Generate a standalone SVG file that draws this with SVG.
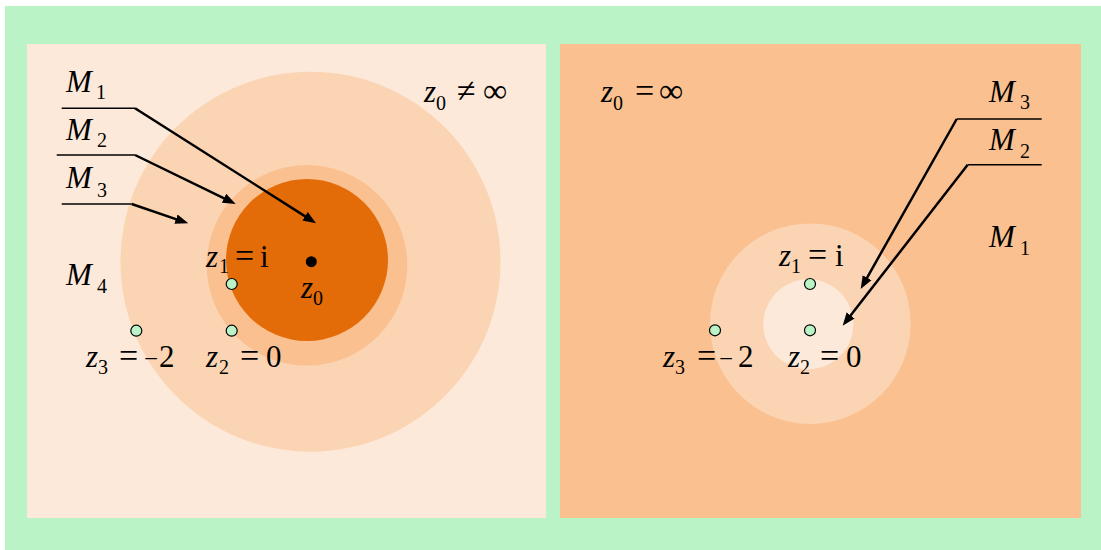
<svg xmlns="http://www.w3.org/2000/svg" width="1101" height="550" viewBox="0 0 1101 550">
<style>
text{font-family:"Liberation Serif","Times New Roman","DejaVu Serif",serif;fill:#000}
.it{font-style:italic;font-size:31px}
.rm{font-size:31px}
.op{font-size:34px}
.mn{font-size:25px}
.sb{font-size:20px}
.pt{fill:#B9F3C6;stroke:#000;stroke-width:1.2}
.hl{stroke:#000;stroke-width:1.5;fill:none}
.ar{stroke:#000;stroke-width:2.5;fill:none;marker-end:url(#ah)}
</style>
<defs>
<marker id="ah" markerUnits="userSpaceOnUse" markerWidth="14" markerHeight="11" refX="3" refY="5" orient="auto" viewBox="0 0 14 10">
<path d="M0,0 L13,5 L0,10 z" fill="#000"/>
</marker>
</defs>
<rect id="background" x="5" y="6" width="1096" height="544" fill="#B9F3C6"/>
<g id="left-panel">
<rect x="27" y="44" width="519" height="474" fill="#FDE9D9"/>
<circle cx="310.5" cy="261.7" r="190" fill="#FBD4B4"/>
<circle cx="307" cy="265.3" r="100.3" fill="#FAC08F"/>
<circle cx="307" cy="260" r="81" fill="#E36C09"/>
<circle cx="311.3" cy="261.7" r="5.5" fill="#000"/>
</g>
<g id="right-panel">
<rect x="560" y="44" width="521" height="474" fill="#FAC08F"/>
<circle cx="810.3" cy="323.7" r="100.3" fill="#FBD4B4"/>
<circle cx="808.3" cy="324.3" r="45" fill="#FDE9D9"/>
</g>
<g id="points">
<circle class="pt" cx="231.7" cy="284" r="5.5"/>
<circle class="pt" cx="231.7" cy="330.7" r="5.5"/>
<circle class="pt" cx="136.3" cy="330.7" r="5.5"/>
<circle class="pt" cx="810" cy="284" r="5.5"/>
<circle class="pt" cx="810" cy="330.3" r="5.5"/>
<circle class="pt" cx="715" cy="330.3" r="5.5"/>
</g>
<g id="label-M1-left"><text class="it" x="66" y="91.7">M</text><text class="sb" x="96" y="99">1</text></g>
<g id="label-M2-left"><text class="it" x="66" y="140">M</text><text class="sb" x="97" y="147.3">2</text></g>
<g id="label-M3-left"><text class="it" x="66" y="188.3">M</text><text class="sb" x="97" y="196.7">3</text></g>
<g id="label-M4-left"><text class="it" x="66" y="285">M</text><text class="sb" x="97" y="292.7">4</text></g>
<g id="label-z0-ne-inf"><text class="it" x="424" y="101.7">z</text><text class="sb" x="436" y="110">0</text><text class="op" x="457" y="101.7">≠</text><text class="op" x="483" y="101.7">∞</text></g>
<g id="label-z0-left"><text class="it" x="301" y="298.3">z</text><text class="sb" x="313" y="305">0</text></g>
<g id="label-z1-left"><text class="it" x="206" y="266.7">z</text><text class="sb" x="219" y="273.3">1</text><text class="op" x="235" y="266.7">=</text><text class="rm" x="260" y="266.7">i</text></g>
<g id="label-z2-left"><text class="it" x="206" y="366.7">z</text><text class="sb" x="219" y="374">2</text><text class="op" x="240" y="366.7">=</text><text class="rm" x="266" y="366.7">0</text></g>
<g id="label-z3-left"><text class="it" x="86" y="366.7">z</text><text class="sb" x="98" y="374">3</text><text class="op" x="119" y="366.7">=</text><text class="mn" x="144" y="366.7">−</text><text class="rm" x="159" y="366.7">2</text></g>
<g id="label-z0-eq-inf"><text class="it" x="601" y="101.7">z</text><text class="sb" x="613" y="110">0</text><text class="op" x="635" y="101.7">=</text><text class="op" x="659" y="101.7">∞</text></g>
<g id="label-M3-right"><text class="it" x="989" y="101.7">M</text><text class="sb" x="1020" y="109.3">3</text></g>
<g id="label-M2-right"><text class="it" x="989" y="150">M</text><text class="sb" x="1020" y="158.3">2</text></g>
<g id="label-M1-right"><text class="it" x="989" y="246.7">M</text><text class="sb" x="1020" y="255">1</text></g>
<g id="label-z1-right"><text class="it" x="779" y="266">z</text><text class="sb" x="791" y="273.3">1</text><text class="op" x="808" y="266">=</text><text class="rm" x="835" y="266">i</text></g>
<g id="label-z2-right"><text class="it" x="788" y="366.7">z</text><text class="sb" x="800" y="374">2</text><text class="op" x="820" y="366.7">=</text><text class="rm" x="846" y="366.7">0</text></g>
<g id="label-z3-right"><text class="it" x="663" y="366.7">z</text><text class="sb" x="675" y="374">3</text><text class="op" x="697" y="366.7">=</text><text class="mn" x="719" y="366.7">−</text><text class="rm" x="738" y="366.7">2</text></g>
<g id="connectors">
<line class="hl" x1="61.7" y1="108.3" x2="135" y2="108.3"/>
<line class="ar" x1="135" y1="108.3" x2="307.6" y2="217.9"/>
<line class="hl" x1="56.7" y1="155" x2="135" y2="155"/>
<line class="ar" x1="135" y1="155" x2="226.7" y2="199.6"/>
<line class="hl" x1="61.7" y1="204" x2="131.7" y2="204"/>
<line class="ar" x1="131.7" y1="204" x2="178.8" y2="220.1"/>
<line class="hl" x1="956.7" y1="119" x2="1041.7" y2="119"/>
<line class="ar" x1="956.7" y1="119" x2="865.6" y2="280.3"/>
<line class="hl" x1="967.7" y1="164.7" x2="1041.7" y2="164.7"/>
<line class="ar" x1="967.7" y1="164.7" x2="848.8" y2="317.8"/>
</g>
</svg>
